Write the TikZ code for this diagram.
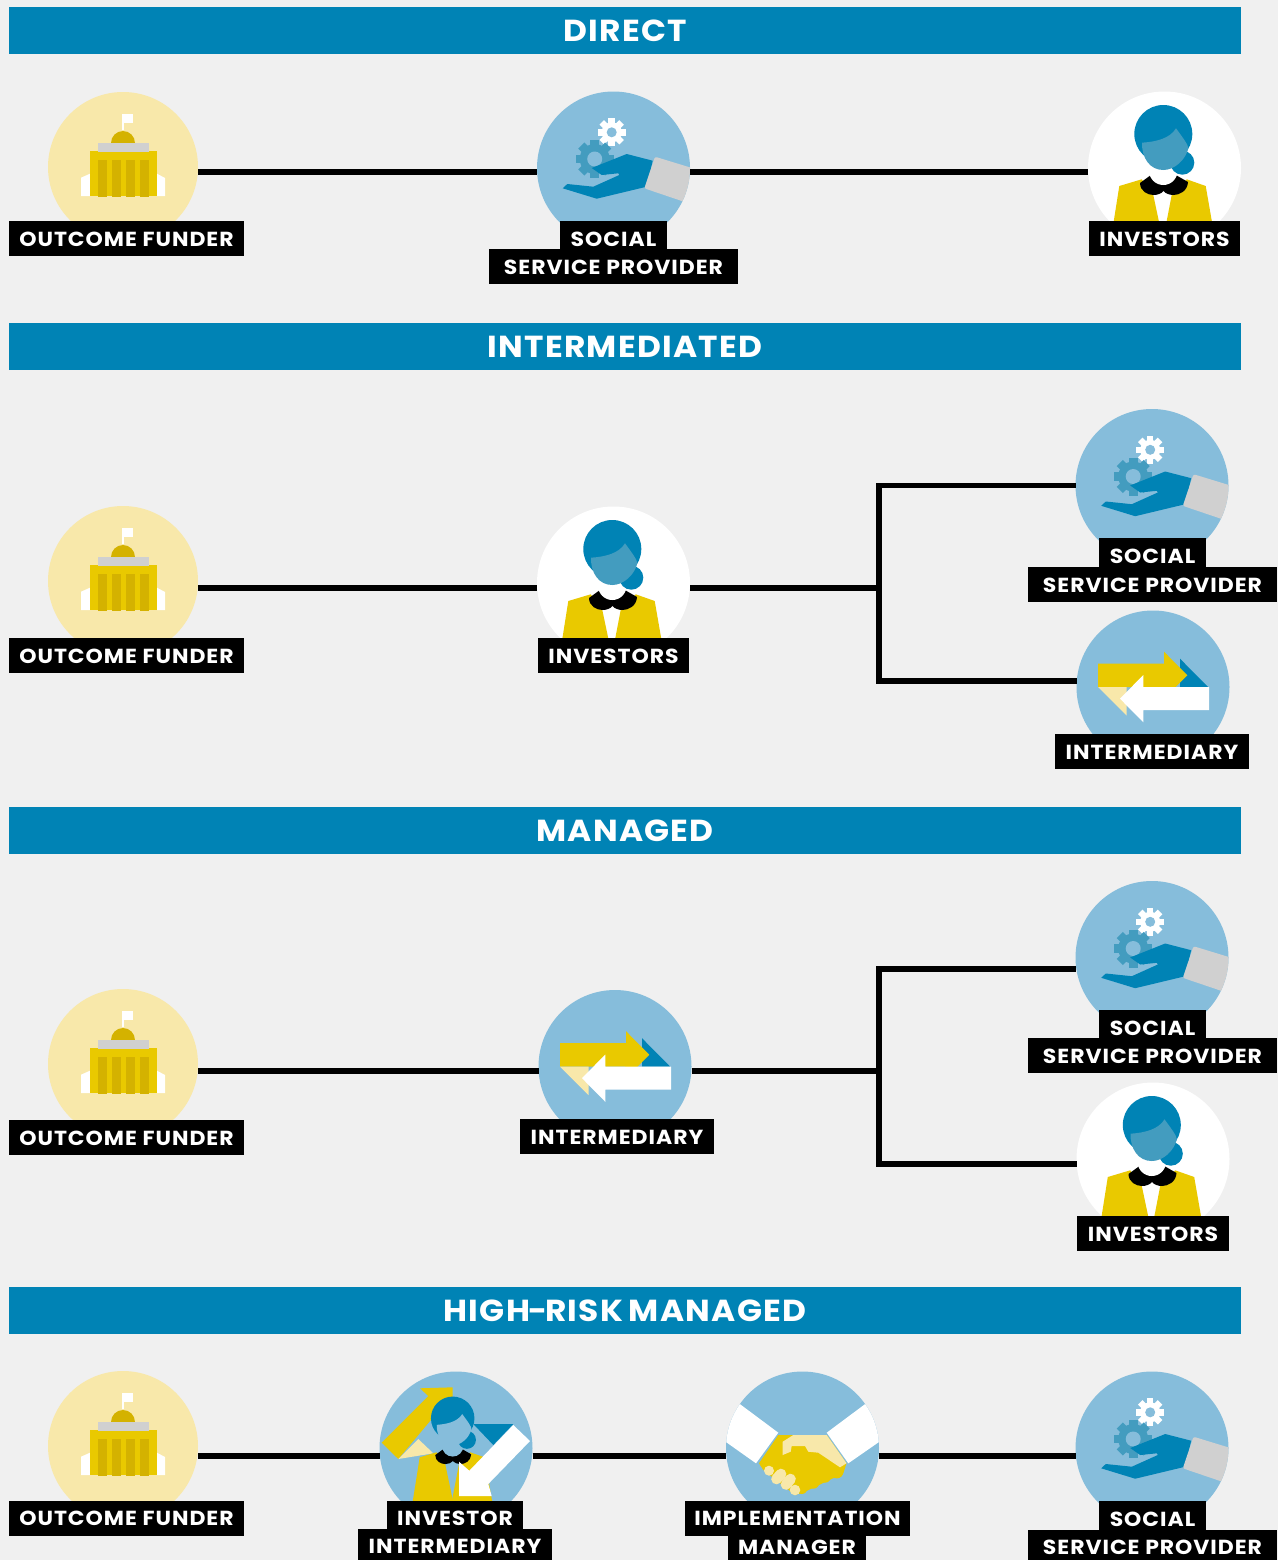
\documentclass[tikz,border=0pt]{standalone}
\usepackage{fontspec}
\usepackage{xcolor}
\setmainfont{Poppins}
\newfontfamily\tagfont{Poppins}[FakeStretch=1.08,LetterSpace=4.8]
\newfontfamily\barfont{Poppins}[FakeStretch=1.08,LetterSpace=4.2,WordSpace=0.7]
\definecolor{color_page}{RGB}{240, 240, 240}
\definecolor{color_banner}{RGB}{0, 131, 181}
\definecolor{color_sky}{RGB}{134, 189, 219}
\definecolor{color_teal}{RGB}{67, 156, 191}
\definecolor{color_pale}{RGB}{248, 232, 170}
\definecolor{color_gold}{RGB}{233, 201, 0}
\definecolor{color_ochre}{RGB}{212, 178, 0}
\definecolor{color_grey}{RGB}{208, 208, 208}

% gear: centre x, centre y, outer radius, body radius, hole radius, colour, hole colour
\newcommand{\geardraw}[7]{
    \begin{scope}[shift={(#1,#2)}]
    \foreach \a in {0,45,...,135}{
        \fill[#6,rotate=\a] (-#3*0.23,-#3) rectangle (#3*0.23,#3);
    }
    \fill[#6] (0,0) circle(#4);
    \fill[#7] (0,0) circle(#5);
    \end{scope}
}

% person: face colour, neck colour
\newcommand{\persondraw}[2]{
    \fill[color_gold] (-45.2,18) -- (-22.8,11.3) -- (-11.2,27) -- (0,80) -- (-55,80) -- cycle;
    \fill[color_gold] (-3,80) -- (7.2,27) -- (22.2,11.3) -- (41.2,18) -- (52,80) -- cycle;
    \fill[black] (-14.5,7.7) -- (-24.5,15) .. controls (-24.5,23) and (-17,27) .. (-11,27)
        .. controls (-7,27) and (-3,25.5) .. (-1,23) .. controls (1,25.5) and (5,27) .. (9,27)
        .. controls (15,27) and (23,23) .. (23.5,14) -- (12.5,7.7) -- cycle;
    \fill[#2] (-1.2,2.8) circle(14.2);
    \fill[color_banner] (17.8,-5.3) circle(12);
    \fill[color_banner] (-1.2,-34) circle(29);
    \fill[#1] (-22.5,-25.3) .. controls (-7.8,-26.3) and (5.5,-29.7) .. (11.5,-39.7)
        .. controls (18.8,-29.7) and (23.8,-23) .. (23.8,-19.7)
        .. controls (21,-8) and (10,2) .. (-1.2,2)
        .. controls (-14.5,2) and (-22.8,-9.7) .. (-22.5,-25.3) -- cycle;
}

\tikzset{
    x=0.75pt,y=-0.75pt,
    banner/.style={fill=color_banner,text=white,inner sep=0pt,minimum width=924pt,minimum height=35.25pt,
        text height=16.7pt,text depth=0pt,font=\barfont\bfseries\fontsize{22.8}{22.8}\selectfont},
    tag/.style={fill=black,text=white,inner sep=0pt,minimum width=#1*0.75pt,minimum height=26.25pt,
        text height=11.4pt,text depth=0pt,font=\tagfont\bfseries\fontsize{15.25}{15.25}\selectfont},
    disc/.style={circle,inner sep=0pt,outer sep=0pt,minimum size=153*0.75pt},
    link/.style={line width=3.8pt,black},
    funder/.pic={
        \fill[white] (-1.3,-53) rectangle (1,-37);
        \fill[white] (-1.3,-53) rectangle (9.7,-44.3);
        \fill[color_ochre] (-12,-24) arc[start angle=180,end angle=360,x radius=9pt,y radius=-9pt] -- cycle;
        \fill[white] (-42,10.7) -- (-33,6.7) -- (-33,29) -- (-42,29) -- cycle;
        \fill[white] (34,6.7) -- (42,11) -- (42,29) -- (34,29) -- cycle;
        \fill[color_gold] (-33,-16) rectangle (34,29);
        \fill[color_grey] (-25,-24) rectangle (26,-15.3);
        \foreach \x in {-25,-11,3,17}{
            \fill[color_ochre] (\x,-7) rectangle (\x+9,30);
        }
    },
    provider/.pic={
        \begin{scope}
        \clip (0,0) circle(76.5);
        \geardraw{-1.8}{-35.7}{14}{10}{5}{white}{color_sky}
        \geardraw{-18.8}{-9}{19}{15}{7.5}{color_teal}{color_sky}
        \fill[color_banner] (13.2,-14) -- (39.2,-7.3) -- (33.2,18.7) -- (-16.8,30.7) -- (-50.8,20.3)
            -- (-46.2,16) -- (-20.2,18.7) -- (5.8,7) -- (4.8,5.3) -- (-11.8,7) -- (-21.8,0) -- cycle;
        \fill[color_grey,rounded corners=1.5pt] (41.5,-11.3) -- (85,2) -- (80,37) -- (30.8,20.3) -- cycle;
        \end{scope}
    },
    investor/.pic={
        \begin{scope}
        \clip (0,0) circle(76.5);
        \persondraw{color_teal}{white}
        \end{scope}
    },
    intermediary/.pic={
        \fill[color_banner] (27,-28.3) -- (55,0) -- (27,0) -- cycle;
        \fill[color_gold] (-55,-23.3) -- (11,-23.3) -- (11,-35.3) -- (34.3,-11.7) -- (10.3,12.3) -- (10.3,0) -- (-55,0) -- cycle;
        \fill[color_pale] (-55,0) -- (-26.3,0) -- (-26.3,28.7) -- cycle;
        \fill[white] (56,0) -- (-9.7,0) -- (-9.7,-12) -- (-33,11.7) -- (-9.7,35.3) -- (-9.7,23) -- (56,23) -- cycle;
    },
    mixedinvestor/.pic={
        \begin{scope}
        \clip (0,0) circle(76.5);
        \fill[color_gold] (-36,-59.7) -- (-3.3,-60.7) -- (-3.3,-28) -- (-15.3,-39.7) -- (-57.7,11) -- (-74.3,-5.3) -- (-27.7,-52) -- cycle;
        \fill[color_pale] (-57.7,11) -- (-37.7,-9) -- (-22.7,5.3) -- cycle;
        \fill[color_banner] (17.3,-24) -- (57.3,-24) -- (37.3,-3) -- cycle;
        \begin{scope}[shift={(-2.4,-4.2)},scale=0.75]
            \persondraw{color_sky}{color_sky}
        \end{scope}
        \fill[white] (57.3,-23) -- (74,-7) -- (32.3,36) -- (35.7,48) -- (3,48) -- (3,13.7) -- (13.3,22.7) -- cycle;
        \end{scope}
    },
    manager/.pic={
        \begin{scope}
        \clip (0,0) circle(76.5);
        \fill[white] (-65.8,-46.3) -- (-24.2,-15.3) -- (-46.5,15.3) -- (-80.8,-9) -- cycle;
        \fill[white] (65.8,-46.3) -- (24.2,-15.3) -- (45.8,15.3) -- (80.8,-9) -- cycle;
        \fill[color_gold] (-24.2,-13) -- (24.2,-13) -- (44,15.3) -- (40.8,25.3) -- (2.5,43.7) -- (-7.5,47) -- (-39.2,22) -- (-43.5,15.3) -- cycle;
        \foreach \x/\y/\r in {34.2/23.7/6.7, 22.5/28.7/6, 10.8/34.7/6, -0.8/40.3/5.7}{
            \fill[color_gold] (\x,\y) circle(\r);
        }
        \fill[color_pale] (-9.2,-13) -- (24.2,-13) -- (44,15.3) -- (37.5,19.3) -- (15.8,4.7) -- (5.8,3.7) -- (2.5,-2)
            -- (-10.8,-2) -- (-11.8,3.7) -- (-19.8,7) -- (-19.8,-6.3) -- cycle;
        \fill[color_pale] (-33.5,22.7) circle(5);
        \draw[color_pale,line width=8pt,line cap=round] (-21.5,26) -- (-26,31);
        \draw[color_pale,line width=8pt,line cap=round] (-12,31) -- (-16.5,36.5);
        \fill[color_pale] (-7.5,42) circle(5.3);
        \end{scope}
    }
}

\begin{document}
\begin{tikzpicture}
    \fill[color_page] (0,0) rectangle (1278,1560);
    \useasboundingbox (0,0) rectangle (1278,1560);

    % section bars
    \foreach \y/\n/\L in {30.5/1/DIRECT, 346.5/2/INTERMEDIATED, 830.5/3/MANAGED, 1310.5/4/HIGH\kern-1.5pt-\kern-1.5pt RISK MANAGED}{
        \node[banner] (bar\n) at (625,\y) {\L};
    }

    % funders on the left
    \foreach \y/\n in {167/1, 581/2, 1064/3, 1446/4}{
        \node[disc,fill=color_pale,minimum size=150*0.75pt] (f\n) at (123,\y) {};
        \pic at (f\n) {funder};
    }

    % direct
    \node[disc,fill=color_sky] (p1) at (613.5,168) {};
    \pic at (p1) {provider};
    \node[disc,fill=white] (i1) at (1164.5,168) {};
    \pic at (i1) {investor};
    \coordinate (r1) at (613,172);
    \draw[link] (f1.east |- r1) -- (p1.west |- r1);
    \draw[link] (p1.east |- r1) -- (i1.west |- r1);

    % intermediated
    \node[disc,fill=white] (i2) at (613.5,583) {};
    \pic at (i2) {investor};
    \node[disc,fill=color_sky] (p2) at (1152,485.5) {};
    \pic at (p2) {provider};
    \node[disc,fill=color_sky] (m2) at (1153,687) {};
    \pic at (m2) {intermediary};
    \coordinate (j2) at (879,588);
    \coordinate (k2) at (879,681);
    \draw[link] (f2.east |- j2) -- (i2.west |- j2);
    \draw[link] (i2.east |- j2) -- (j2);
    \draw[link] (p2.west) -| (k2) -- (m2.west |- k2);

    % managed
    \node[disc,fill=color_sky] (m3) at (615,1066.5) {};
    \pic at (m3) {intermediary};
    \node[disc,fill=color_sky] (p3) at (1152,957.5) {};
    \pic at (p3) {provider};
    \node[disc,fill=white] (i3) at (1153,1159) {};
    \pic at (i3) {investor};
    \coordinate (j3) at (879,1071);
    \coordinate (t3) at (879,969);
    \coordinate (k3) at (879,1164);
    \draw[link] (f3.east |- j3) -- (m3.west |- j3);
    \draw[link] (m3.east |- j3) -- (j3);
    \draw[link] (p3.west |- t3) -- (t3) -- (k3) -- (i3.west |- k3);

    % high-risk managed
    \node[disc,fill=color_sky] (x4) at (456,1448) {};
    \pic at (x4) {mixedinvestor};
    \node[disc,fill=color_sky] (h4) at (802.5,1448) {};
    \pic at (h4) {manager};
    \node[disc,fill=color_sky] (p4) at (1152,1448) {};
    \pic at (p4) {provider};
    \coordinate (r4) at (800,1456);
    \draw[link] (f4.east |- r4) -- (x4.west |- r4);
    \draw[link] (x4.east |- r4) -- (h4.west |- r4);
    \draw[link] (h4.east |- r4) -- (p4.west |- r4);

    % labels
    \foreach \y/\n in {238.5/1, 655.5/2, 1137.5/3, 1518/4}{
        \node[tag=235] (tf\n) at (126.5,\y) {OUTCOME FUNDER};
    }
    \foreach \x/\y/\z/\n in {613.5/238.5/266.5/1, 1152.5/555.5/584.5/2, 1152.5/1027.5/1055.5/3, 1152.5/1518.5/1547/4}{
        \node[tag=107] (ts\n) at (\x,\y) {SOCIAL};
        \node[tag=249] (tp\n) at (\x,\z) {SERVICE PROVIDER};
    }
    \node[tag=151] (ti1) at (1164.5,238.5) {INVESTORS};
    \node[tag=151] (ti2) at (613.5,655.5) {INVESTORS};
    \node[tag=194] (tm2) at (1152,751.5) {INTERMEDIARY};
    \node[tag=194] (tm3) at (617,1136.5) {INTERMEDIARY};
    \node[tag=152] (ti3) at (1153,1233.5) {INVESTORS};
    \node[tag=136] (tx4a) at (455,1518) {INVESTOR};
    \node[tag=194] (tx4b) at (455,1546) {INTERMEDIARY};
    \node[tag=225] (th4a) at (797.5,1518) {IMPLEMENTATION};
    \node[tag=138] (th4b) at (797,1546.5) {MANAGER};
\end{tikzpicture}
\end{document}
